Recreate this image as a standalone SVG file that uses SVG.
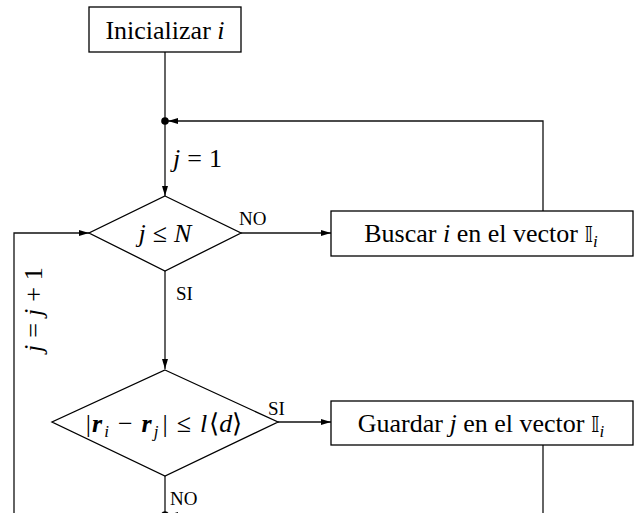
<svg xmlns="http://www.w3.org/2000/svg" width="637" height="513" viewBox="0 0 637 513">
<style>
.box{fill:#fff;stroke:#000;stroke-width:1.3}
.ln{fill:none;stroke:#111;stroke-width:1.3}
.t{font-family:"Liberation Serif","Times New Roman",serif;font-size:26px;fill:#000}
.m{font-style:italic}
.lab{font-family:"Liberation Serif","Times New Roman",serif;font-size:19px;fill:#000}
.bb{font-family:"DejaVu Sans",serif;font-size:22px}
.sub{font-style:italic;font-size:17px}
</style>
<defs>
<marker id="ah" viewBox="0 0 10 6" refX="10" refY="3" markerWidth="10" markerHeight="6" markerUnits="userSpaceOnUse" orient="auto">
<path d="M0,0 L10,3 L0,6 Z" fill="#000"/>
</marker>
</defs>
<g id="connectors">
<line class="ln" x1="165" y1="52" x2="165" y2="196" marker-end="url(#ah)"/>
<polyline class="ln" points="543,211 543,121 168,121" marker-end="url(#ah)"/>
<circle cx="165" cy="121" r="3.8" fill="#000"/>
<polyline class="ln" points="14,513 14,233 89,233" marker-end="url(#ah)"/>
<line class="ln" x1="241" y1="233" x2="331" y2="233" marker-end="url(#ah)"/>
<line class="ln" x1="165" y1="271" x2="165" y2="369" marker-end="url(#ah)"/>
<line class="ln" x1="278" y1="422" x2="331" y2="422" marker-end="url(#ah)"/>
<line class="ln" x1="543" y1="445" x2="543" y2="513"/>
<line class="ln" x1="165" y1="476" x2="165" y2="513"/>
<line class="ln" x1="543" y1="515" x2="168" y2="515" marker-end="url(#ah)"/>
<circle cx="165" cy="515" r="3.8" fill="#000"/>
<text class="t" x="173" y="167"><tspan class="m">j</tspan><tspan dx="7">=</tspan><tspan dx="7">1</tspan></text>
<text class="lab" x="239" y="225">NO</text>
<text class="lab" x="176" y="300">SI</text>
<text class="lab" x="268" y="415">SI</text>
<text class="lab" x="170" y="505">NO</text>
<text class="t" transform="translate(42,352) rotate(-90)"><tspan class="m">j</tspan><tspan dx="7">=</tspan><tspan class="m" dx="7">j</tspan><tspan dx="7">+</tspan><tspan dx="7">1</tspan></text>
</g>
<g id="n_init">
<rect class="box" x="89" y="7" width="152" height="45"/>
<text class="t" x="165" y="39" text-anchor="middle">Inicializar <tspan class="m">i</tspan></text>
</g>
<g id="n_cond1">
<polygon class="box" points="165,196 241,233 165,271 89,233"/>
<text class="t" x="165" y="242" text-anchor="middle"><tspan class="m">j</tspan><tspan dx="7">≤</tspan><tspan class="m" dx="7">N</tspan></text>
</g>
<g id="n_buscar">
<rect class="box" x="331" y="211" width="302" height="45"/>
<text class="t" x="481" y="242" text-anchor="middle">Buscar <tspan class="m">i</tspan> en el vector <tspan class="bb">𝕀</tspan><tspan class="sub" dy="5">i</tspan></text>
</g>
<g id="n_cond2">
<polygon class="box" points="165,370 278,422 165,476 52,422"/>
<text class="t" x="164" y="432" text-anchor="middle" font-size="28">|<tspan font-weight="bold" font-style="italic" dx="1">r</tspan><tspan class="sub" dy="5" dx="2">i</tspan><tspan dy="-5" dx="9">−</tspan><tspan font-weight="bold" font-style="italic" dx="9">r</tspan><tspan class="sub" dy="5" dx="2">j</tspan><tspan dy="-5" dx="4">|</tspan><tspan dx="9">≤</tspan><tspan class="m" dx="9">l</tspan><tspan dx="2">⟨</tspan><tspan class="m">d</tspan>⟩</text>
</g>
<g id="n_guardar">
<rect class="box" x="331" y="401" width="302" height="44"/>
<text class="t" x="481" y="432" text-anchor="middle">Guardar <tspan class="m">j</tspan> en el vector <tspan class="bb">𝕀</tspan><tspan class="sub" dy="5">i</tspan></text>
</g>
</svg>
